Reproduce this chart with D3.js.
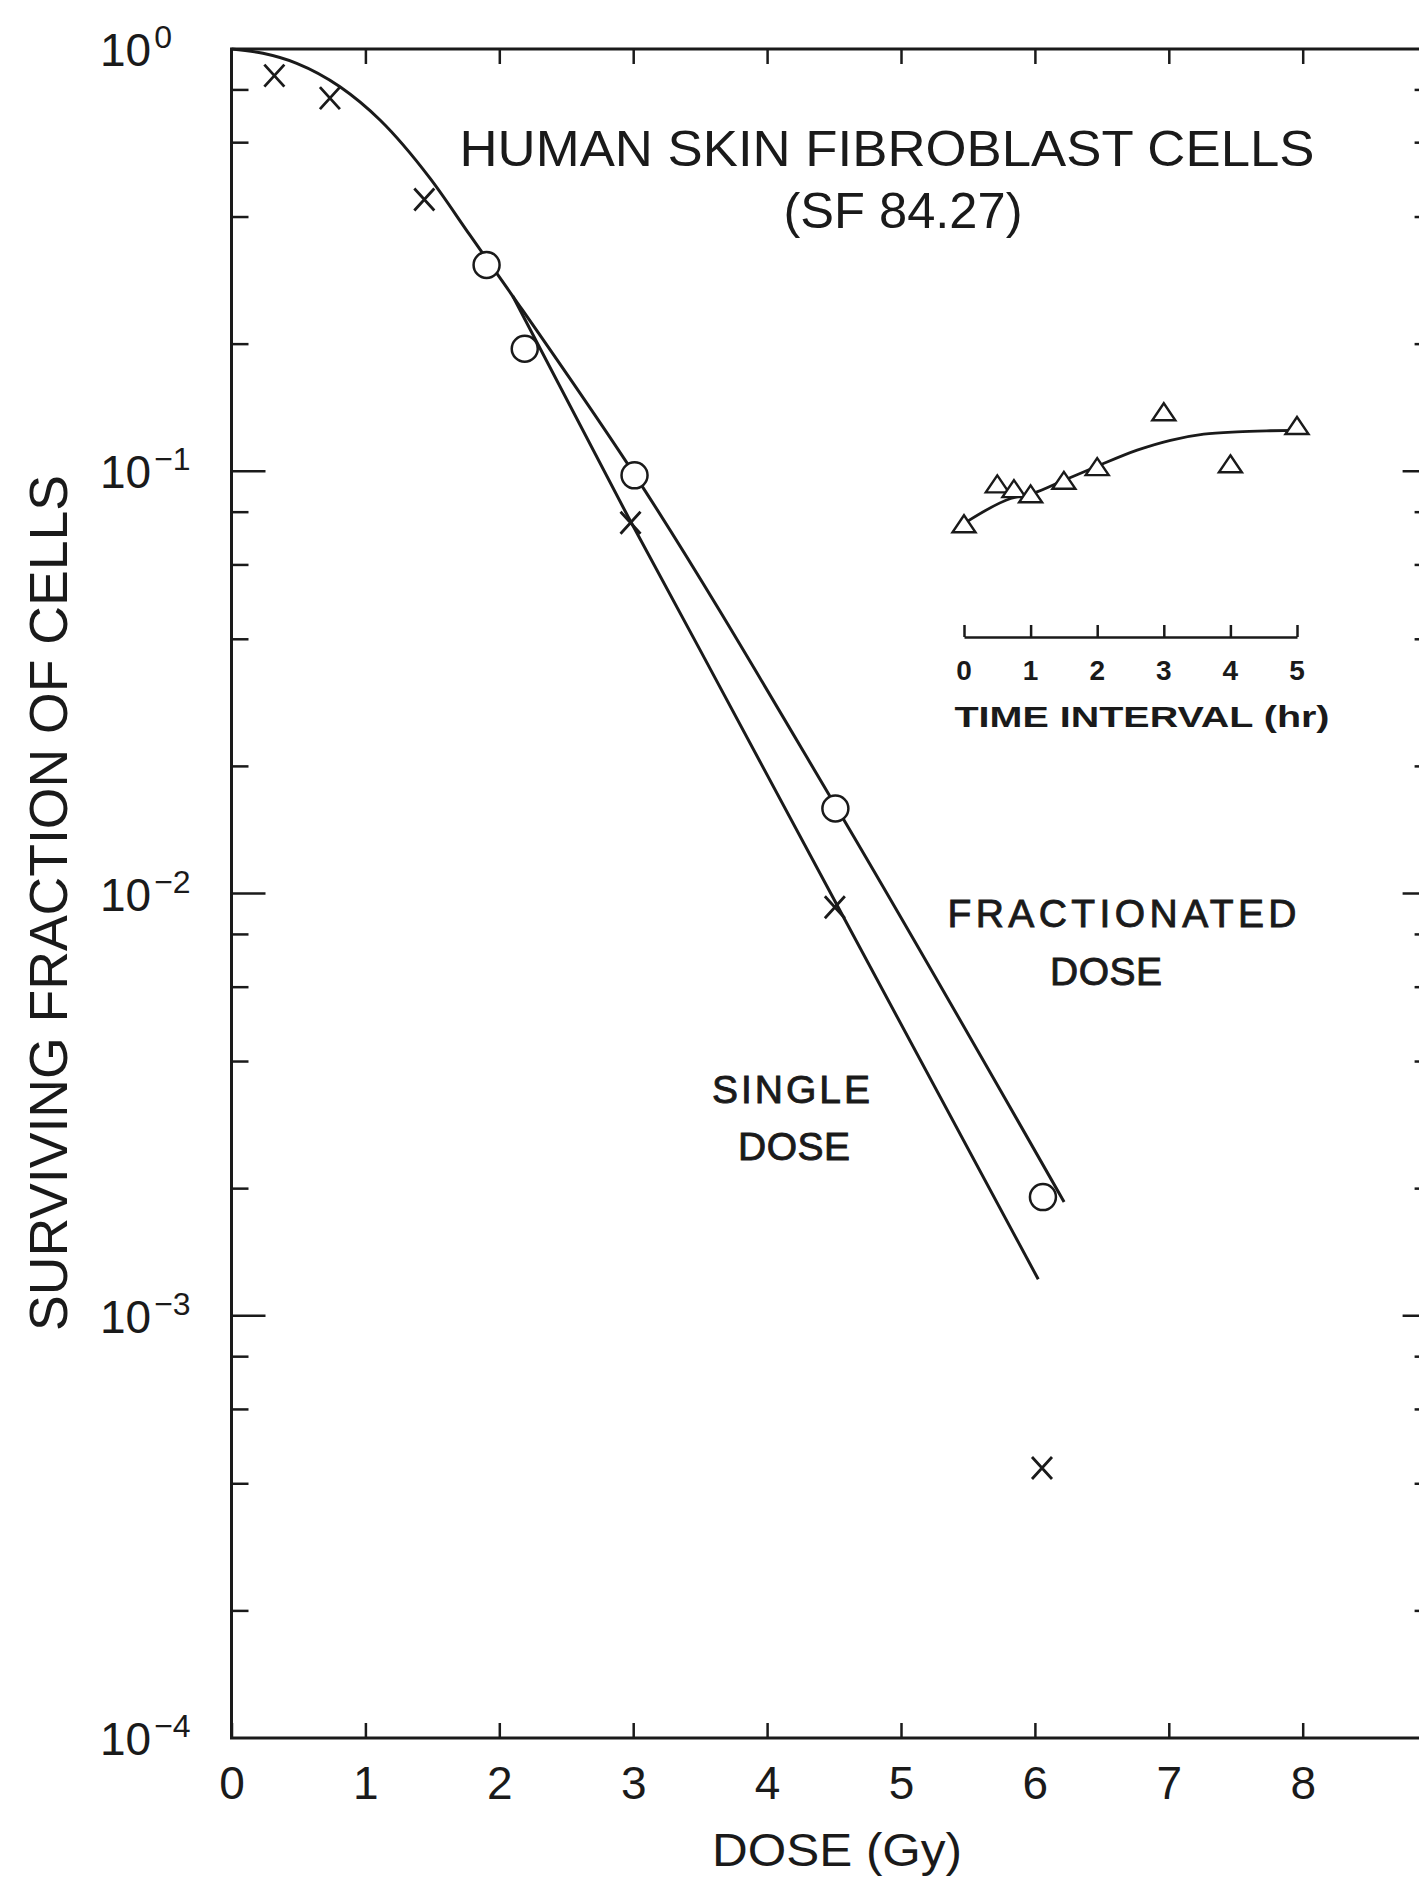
<!DOCTYPE html>
<html>
<head>
<meta charset="utf-8">
<script src="https://cdn.jsdelivr.net/npm/d3@7"></script>
<style>
  html, body { margin: 0; padding: 0; background: #fff; }
  svg { display: block; }
  text { font-family: "Liberation Sans", Arial, Helvetica, sans-serif; fill: #1a1a1a; }
</style>
</head>
<body>
<svg id="chart" width="1419" height="1882"></svg>
<script>
// ---------------- DATA ----------------
const xTicks = [0, 1, 2, 3, 4, 5, 6, 7, 8];
const yDecadeExponents = [0, -1, -2, -3, -4];
const yMinorMultipliers = [2, 4, 6, 8];

// Shared shoulder of both survival curves (dose Gy, surviving fraction)
const shoulderDose = [0, 0.235, 0.487, 0.81, 1.109, 1.482, 1.781, 2.1];
const shoulderSF   = [1, 0.977, 0.925, 0.814, 0.679, 0.4945, 0.3623, 0.26];

// Fractionated-dose curve tail
const fracTailDose = [3.014, 4.51, 6.218];
const fracTailSF   = [0.0978, 0.01616, 0.00186];

// Single-dose curve tail
const singleTailDose = [2.964, 3.5, 4.508, 6.025];
const singleTailSF   = [0.0778, 0.0377, 0.00957, 0.00122];

// Data points: fractionated (circles)
const fracPtsDose = [1.905, 2.19, 3.01, 4.51, 6.06];
const fracPtsSF   = [0.308, 0.195, 0.0978, 0.0159, 0.00191];

// Data points: single dose (X)
const singlePtsDose = [0.32, 0.735, 1.44, 2.98, 4.506, 6.053];
const singlePtsSF   = [0.865, 0.765, 0.44, 0.0755, 0.00928, 0.000436];

// Inset: surviving fraction vs time interval (hr)
const insetTicks = [0, 1, 2, 3, 4, 5];
const insetHr = [0, 0.5, 0.75, 1, 1.5, 2, 3, 4, 5];
const insetSF = [0.0745, 0.0926, 0.0902, 0.0877, 0.0944, 0.1017, 0.1372, 0.1033, 0.1273];
const insetCurveHr = [0, 0.7, 1.05, 1.5, 2, 2.6, 3.1, 3.6, 4.1, 4.6, 5];
const insetCurveSF = [0.0752, 0.0862, 0.0888, 0.0952, 0.1028, 0.1122, 0.1184, 0.1224, 0.124, 0.1247, 0.125];

// Texts
const titleLines = ["HUMAN SKIN FIBROBLAST CELLS", "(SF 84.27)"];
const xTitle = "DOSE (Gy)";
const yTitle = "SURVIVING FRACTION OF CELLS";
const insetTitle = "TIME INTERVAL (hr)";
const fracLabel = ["FRACTIONATED", "DOSE"];
const singleLabel = ["SINGLE", "DOSE"];

// ---------------- DRAW ----------------
const svg = d3.select("#chart");
const ink = "#1a1a1a";

const x = d3.scaleLinear().domain([0, 9]).range([231.5, 231.5 + 9 * 133.9]);
const y = d3.scaleLog().domain([1e-4, 1]).range([1738, 49]);
const xi = d3.scaleLinear().domain([0, 5]).range([964, 1297]);

const zip = (a, b) => a.map((v, i) => [v, b[i]]);

// Frame
const X0 = x(0), X1 = x(9), Y0 = y(1e-4), Y1 = y(1);
svg.append("rect").attr("x", X0).attr("y", Y1).attr("width", X1 - X0).attr("height", Y0 - Y1)
  .attr("fill", "none").attr("stroke", ink).attr("stroke-width", 3);

// Bottom axis ticks (inward) + labels
const bottomAxis = d3.axisBottom(x).tickValues(xTicks).tickSizeInner(-15).tickSizeOuter(0).tickPadding(28).tickFormat(d3.format("d"));
const gB = svg.append("g").attr("transform", `translate(0,${Y0})`).call(bottomAxis);
gB.select(".domain").remove();
gB.selectAll("line").attr("stroke", ink).attr("stroke-width", 2.5);
gB.selectAll("text").attr("font-size", 46).attr("fill", ink).attr("font-family", "Liberation Sans, Arial, sans-serif");

// Top axis ticks (inward)
const topAxis = d3.axisTop(x).tickValues(xTicks.slice(1)).tickSizeInner(-15).tickSizeOuter(0).tickFormat("");
const gT = svg.append("g").attr("transform", `translate(0,${Y1})`).call(topAxis);
gT.select(".domain").remove();
gT.selectAll("line").attr("stroke", ink).attr("stroke-width", 2.5);

// Y ticks
const majorVals = yDecadeExponents.map(e => Math.pow(10, e));
const minorVals = [];
yDecadeExponents.slice(1).forEach(e => yMinorMultipliers.forEach(m => minorVals.push(m * Math.pow(10, e))));

function yTicks(g, side) {
  const dir = side === "left" ? 1 : -1;
  const x0 = side === "left" ? X0 : X1;
  g.selectAll(null).data(majorVals.slice(1, 4)).enter().append("line")
    .attr("x1", x0).attr("x2", x0 + dir * 34).attr("y1", d => y(d)).attr("y2", d => y(d))
    .attr("stroke", ink).attr("stroke-width", 2.5);
  g.selectAll(null).data(minorVals).enter().append("line")
    .attr("x1", x0).attr("x2", x0 + dir * (side === "left" ? 17 : 22)).attr("y1", d => y(d)).attr("y2", d => y(d))
    .attr("stroke", ink).attr("stroke-width", 2.5);
}
yTicks(svg.append("g"), "left");
yTicks(svg.append("g"), "right");

// Y tick labels 10^n
const yl = svg.append("g");
yDecadeExponents.forEach(e => {
  const t = yl.append("text").attr("x", 100).attr("y", y(Math.pow(10, e)) + 17)
    .attr("font-size", 46).attr("fill", ink);
  t.append("tspan").text("10");
  t.append("tspan").attr("dx", 3).attr("dy", -18).attr("font-size", 32)
    .text(e === 0 ? "0" : "\u2212" + Math.abs(e));
});

// Axis titles
svg.append("text").attr("x", 837).attr("y", 1866).attr("text-anchor", "middle")
  .attr("font-size", 46).attr("textLength", 250).attr("lengthAdjust", "spacingAndGlyphs").text(xTitle);
svg.append("text").attr("transform", "translate(67,903) rotate(-90)").attr("text-anchor", "middle")
  .attr("font-size", 54).attr("textLength", 856).attr("lengthAdjust", "spacingAndGlyphs").text(yTitle);

// Title
svg.append("text").attr("x", 887).attr("y", 166).attr("text-anchor", "middle")
  .attr("font-size", 50).attr("textLength", 855).attr("lengthAdjust", "spacingAndGlyphs").text(titleLines[0]);
svg.append("text").attr("x", 903).attr("y", 228).attr("text-anchor", "middle")
  .attr("font-size", 50).attr("textLength", 239).attr("lengthAdjust", "spacingAndGlyphs").text(titleLines[1]);

// Curves
const line = d3.line().x(d => x(d[0])).y(d => y(d[1])).curve(d3.curveMonotoneX);
const shoulder = zip(shoulderDose, shoulderSF);
svg.append("path").datum(shoulder.concat(zip(fracTailDose, fracTailSF)))
  .attr("d", line).attr("fill", "none").attr("stroke", ink).attr("stroke-width", 3);
const singleLine = d3.line().x(d => x(d[0])).y(d => y(d[1])).curve(d3.curveLinear);
svg.append("path").datum([shoulder[shoulder.length - 1]].concat(zip(singleTailDose, singleTailSF)))
  .attr("d", singleLine).attr("fill", "none").attr("stroke", ink).attr("stroke-width", 3);

// X markers (single dose)
svg.append("g").selectAll("path").data(zip(singlePtsDose, singlePtsSF)).enter().append("path")
  .attr("transform", d => `translate(${x(d[0])},${y(d[1])})`)
  .attr("d", "M-10,-11L10,11M10,-11L-10,11")
  .attr("fill", "none").attr("stroke", ink).attr("stroke-width", 2.8);

// Circles (fractionated)
svg.append("g").selectAll("circle").data(zip(fracPtsDose, fracPtsSF)).enter().append("circle")
  .attr("cx", d => x(d[0])).attr("cy", d => y(d[1])).attr("r", 13)
  .attr("fill", "#fff").attr("stroke", ink).attr("stroke-width", 2.5);

// Inset
const insetAxisY = 637;
const insetAxis = d3.axisTop(xi).tickValues(insetTicks).tickSizeInner(12).tickSizeOuter(0).tickFormat("");
const gI = svg.append("g").attr("transform", `translate(0,${insetAxisY})`).call(insetAxis);
gI.select(".domain").attr("stroke", ink).attr("stroke-width", 2.5);
gI.selectAll("line").attr("stroke", ink).attr("stroke-width", 2.5);
svg.append("g").selectAll("text").data(insetTicks).enter().append("text")
  .attr("x", d => xi(d)).attr("y", 680).attr("text-anchor", "middle")
  .attr("font-size", 28).attr("font-weight", "bold").text(d => d);
svg.append("text").attr("x", 1142).attr("y", 727).attr("text-anchor", "middle")
  .attr("font-size", 29).attr("font-weight", "bold").attr("textLength", 375).attr("lengthAdjust", "spacingAndGlyphs")
  .text(insetTitle);

const iline = d3.line().x(d => xi(d[0])).y(d => y(d[1])).curve(d3.curveMonotoneX);
svg.append("path").datum(zip(insetCurveHr, insetCurveSF)).attr("d", iline)
  .attr("fill", "none").attr("stroke", ink).attr("stroke-width", 2.8);
svg.append("g").selectAll("path").data(zip(insetHr, insetSF)).enter().append("path")
  .attr("transform", d => `translate(${xi(d[0])},${y(d[1])})`)
  .attr("d", "M0,-10L11.5,7L-11.5,7Z")
  .attr("fill", "#fff").attr("stroke", ink).attr("stroke-width", 2.4);

// Curve annotations
function label(lines, xs, ys, lens) {
  lines.forEach((s, i) => {
    svg.append("text").attr("x", xs[i]).attr("y", ys[i]).attr("text-anchor", "middle")
      .attr("font-size", 39).attr("stroke", ink).attr("stroke-width", 0.9)
      .attr("textLength", lens[i]).attr("lengthAdjust", "spacing").text(s);
  });
}
label(fracLabel, [1122, 1106], [927, 985], [349, 112]);
label(singleLabel, [791, 794], [1103, 1160], [158, 112]);
</script>
</body>
</html>
